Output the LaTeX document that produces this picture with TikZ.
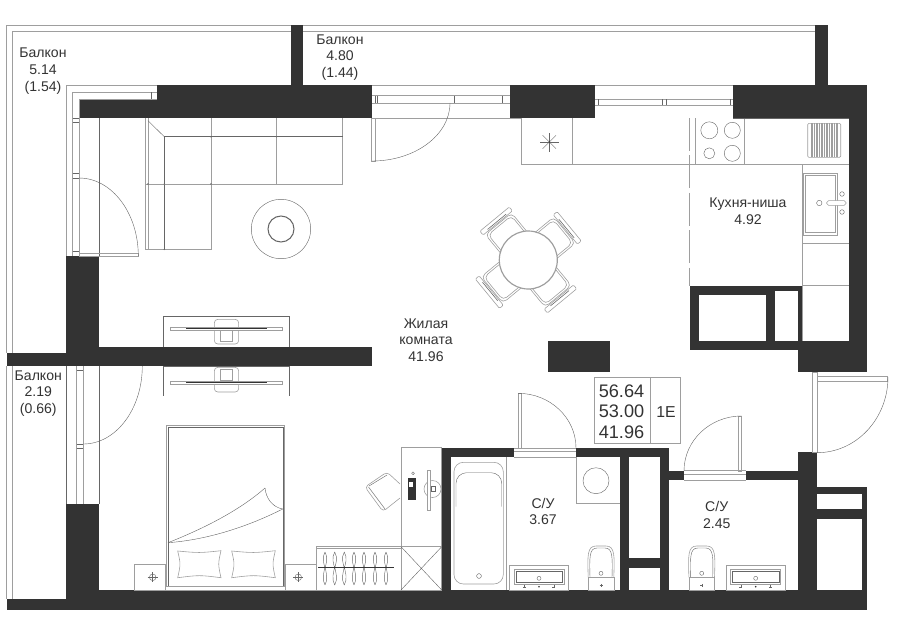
\documentclass[tikz,border=0pt]{standalone}
\usepackage{fontspec}
\setmainfont{Liberation Sans}
\usetikzlibrary{calc}

\definecolor{wallc}{HTML}{333333}
\definecolor{linec}{HTML}{666666}
\definecolor{softc}{HTML}{9E9E9E}

% quarter of an ellipse: door swing, centre then signed radii
\newcommand{\swing}[4]{\draw[plan] ({#1},{#2+#4}) .. controls ({#1+.5523*#3},{#2+#4}) and ({#1+#3},{#2+.5523*#4}) .. ({#1+#3},{#2});}
\newcommand{\tinyplus}[2]{\draw[plan] ({#1-1.5},{#2}) -- ({#1+1.5},{#2}) ({#1},{#2-1.5}) -- ({#1},{#2+1.5});}
% wash basin, left edge and right edge of the top
\newcommand{\basin}[2]{
  \draw[soft] (#1,565.3) rectangle (#2,590);
  \draw[soft] ({#1+4.7},569.3) rectangle ({#2-4.7},584);
  \draw[plan] ({#1+6.5},571) rectangle ({#2-6.5},582.3);
  \draw[plan] ({(#1+#2)/2},578.3) circle (2);
  \fill[wallc] ({(#1+#2)/2},586.7) circle (.9);
  \tinyplus{(#1+#2)/2-14.7}{586.7}
  \tinyplus{(#1+#2)/2+14.7}{586.7}
}
% toilet, centre x
\newcommand{\toilet}[1]{
  \draw[soft] ({#1-12.8},577.3) .. controls ({#1-13.5},556) and ({#1-14},546) .. ({#1-5},546) -- ({#1+5},546) .. controls ({#1+14},546) and ({#1+13.5},556) .. ({#1+12.8},577.3);
  \draw[plan] ({#1-11},577.3) .. controls ({#1-11.5},558) and ({#1-12},548) .. ({#1-4},548) -- ({#1+4},548) .. controls ({#1+12},548) and ({#1+11.5},558) .. ({#1+11},577.3);
  \draw[soft] ({#1-12.8},577.3) rectangle ({#1+12.8},590);
  \draw[plan] (#1,573.3) circle (2);
  \tinyplus{#1}{585.3}
}

\begin{document}
\begin{tikzpicture}[
    x=0.03cm, y=-0.03cm,
    wall/.style={fill=wallc, draw=none},
    plan/.style={draw=linec, line width=0.35pt},
    soft/.style={draw=softc, line width=0.5pt},
    roomlabel/.style={text=wallc, align=center, font=\fontsize{12}{14.2}\selectfont, inner sep=0pt}
  ]
  \useasboundingbox (0,0) rectangle (900,637);

  % balcony rails
  \draw[soft] (291,25.5) -- (6.5,25.5) -- (6.5,353);
  \draw[soft] (291,31) -- (12.7,31) -- (12.7,353);
  \draw[soft] (6.5,366) -- (6.5,599);
  \draw[soft] (12.7,366) -- (12.7,599);
  \draw[soft] (303,25.5) -- (815,25.5);
  \draw[soft] (303,31) -- (815,31);

  % walls
  \fill[wall] (291,25) rectangle (303,85);
  \fill[wall] (815,25) rectangle (828,85);
  \fill[wall] (157,85) rectangle (372,118);
  \fill[wall] (79,99) rectangle (157,118);
  \fill[wall] (510,85) rectangle (595,118);
  \fill[wall] (733,85) rectangle (867,118);
  \fill[wall] (849,118) rectangle (867,372);
  \fill[wall] (798,350) rectangle (867,372);
  \fill[wall] (548,341) rectangle (610,372);
  \fill[wall] (66,256) rectangle (99,366);
  \fill[wall] (99,346.7) rectangle (372,366);
  \fill[wall] (6.5,353) rectangle (66,366);
  \fill[wall] (66,504) rectangle (99,599);
  \fill[wall] (6.5,599) rectangle (99,610);
  \fill[wall] (99,590) rectangle (867,610);

  % niche behind the kitchen
  \fill[wall] (690,285.7) rectangle (803,350);
  \fill[wall] (798,340.7) rectangle (849,350);
  \fill[white] (699,295) rectangle (766,340.7);
  \fill[white] (775,291) rectangle (798,340.7);

  % bathrooms
  \fill[wall] (442,448) rectangle (514,457);
  \fill[wall] (576,448) rectangle (669,457);
  \fill[wall] (442,448) rectangle (451,590);
  \fill[wall] (620,457) rectangle (629,590);
  \fill[wall] (660,448) rectangle (669,590);
  \fill[wall] (629,558) rectangle (660,568);
  \fill[wall] (669,470.7) rectangle (684,480);
  \fill[wall] (746,470.7) rectangle (798,480);
  \fill[wall] (798,452) rectangle (817,590);
  \fill[wall] (817,487) rectangle (867,590);
  \fill[white] (817,494) rectangle (862,508.7);
  \fill[white] (817,518.7) rectangle (862,590);

  % windows and doors to the balconies
  \draw[soft] (157,85) -- (66,85) -- (66,256);
  \draw[soft] (157,92.3) -- (72.5,92.3) -- (72.5,256);
  \draw[soft] (157,99) -- (79,99) -- (79,256);
  \draw[plan] (151.7,92.3) -- (151.7,99);
  \draw[plan] (72.5,118) -- (79,118) (72.5,122) -- (79,122);
  \draw[plan] (72.5,173) -- (79,173) (72.5,178) -- (79,178);
  \draw[plan] (72.5,251) -- (79,251);
  \draw[plan] (99,118) -- (99,256);
  \draw[soft] (79,253) -- (138.3,253) -- (138.3,256) -- (79,256);
  \swing{79}{256}{59.3}{-78}

  \draw[plan] (66,366) -- (66,504);
  \draw[soft] (76.7,366) -- (76.7,504);
  \draw[soft] (83.3,366) -- (83.3,504);
  \draw[plan] (99,366) -- (99,504);
  \draw[plan] (76.7,444) -- (83.3,444) (76.7,448) -- (83.3,448) (76.7,370) -- (83.3,370);
  \swing{83.3}{366}{59}{78}

  \draw[soft] (372,85) -- (510,85);
  \draw[soft] (595,85) -- (733,85);
  \draw[soft] (372,118) -- (521.3,118);
  \draw[soft] (372,95.7) -- (510,95.7) (372,103.3) -- (510,103.3);
  \draw[soft] (595,99) -- (733,99) (595,105) -- (733,105);
  \foreach \tick in {375,377,454,501.7}{
    \draw[plan] (\tick,95.7) -- (\tick,103.3);
  }
  \foreach \tick in {598,661.7,666,730}{
    \draw[plan] (\tick,99) -- (\tick,105);
  }
  \draw[soft] (371.7,118) rectangle (375,161);
  \swing{372}{103}{78}{58}

  % door of the flat
  \draw[soft] (812.7,372) rectangle (817,452);
  \draw[soft] (817,376.7) rectangle (887,381.7);
  \swing{817}{377}{71}{75.7}

  % bathroom doors
  \draw[soft] (518,393.3) rectangle (521,448);
  \draw[soft] (514,448) -- (576,448) (514,451) -- (576,451) (514,457) -- (576,457);
  \swing{518}{448}{58}{-54.7}
  \draw[soft] (738.3,416) rectangle (741.7,471);
  \draw[soft] (684,470.7) -- (746,470.7) (684,474) -- (746,474) (684,480) -- (746,480);
  \swing{741.7}{471}{-57.7}{-55}

  % sofa
  \draw[soft] (145.7,118) -- (145.7,249.3) -- (211,249.3) -- (211,118);
  \draw[soft] (211,184) -- (342.7,184) -- (342.7,118);
  \draw[soft] (148,118) -- (148,249.3);
  \draw[plan] (164.3,136.7) -- (164.3,249.3);
  \draw[plan] (164.3,136.7) -- (342.7,136.7);
  \draw[plan] (148,120.7) -- (164.3,136.7);
  \draw[soft] (145.7,184) -- (211,184);
  \draw[soft] (276.7,118) -- (276.7,184);
  \foreach \xx/\yy in {211/136.7,276.7/136.7,164.3/184,148/184,211/184,164.3/249.3}{
    \fill[linec] (\xx,\yy) circle (.8);
  }

  % low table
  \draw[plan] (281,229) circle (29.7);
  \draw[linec, line width=0.9pt] (281,229) circle (13);

  % TV sets on both sides of the wall
  \foreach \ytop/\ybot/\yline/\ystand/\yinner in {316.3/346.7/328.7/319.3/330.7, 366/395.7/382.7/367.3/369.3}{
    \draw[plan] (163.3,\ybot) -- (163.3,\ytop) -- (289.7,\ytop) -- (289.7,\ybot);
    \draw[soft, fill=white, rounded corners=3] (214.3,\ystand) rectangle (238.7,\ystand+24.7);
    \draw[soft] (220.7,\yinner) rectangle (232.3,\yinner+11);
    \draw[soft, fill=white] (170,\yline-1.2) rectangle (282.7,\yline+1.2);
    \draw[wallc, line width=0.5pt] (186,\yline) -- (267,\yline);
  }

  % dining table
  \foreach \ang in {39.5,129.5,219.5,309.5}{
    \begin{scope}[shift={(528.3,260)}, rotate=\ang]
      \draw[soft, rounded corners=4] (20,-17) -- (47,-17) -- (47,17) -- (20,17);
      \draw[soft, rounded corners=4] (20,-15) -- (45,-15) -- (45,15) -- (20,15);
      \draw[soft, rounded corners=1] (48,-19) rectangle (53,19);
      \draw[linec, line width=0.5pt] (49.5,-12) -- (49.5,12);
    \end{scope}
  }
  \draw[softc, fill=white, line width=1pt] (528.3,260) circle (29);

  % kitchen
  \draw[soft] (521.3,118) -- (521.3,164.3) -- (802.7,164.3);
  \draw[soft] (572.3,118) -- (572.3,164.3);
  \draw[soft] (695.7,118) -- (695.7,164.3);
  \draw[soft] (744.7,118) -- (744.7,164.3);
  \draw[plan] (733,118) -- (849,118);
  \draw[plan] (709.3,130.3) circle (8.5);
  \draw[plan] (732.3,130.3) circle (8);
  \draw[plan] (709.3,153.3) circle (5.5);
  \draw[plan] (732.3,153.3) circle (8);
  \foreach \ang in {0,45,...,135}{
    \draw[plan] (549.3,142) ++(\ang:9.5) -- ++(\ang+180:19);
  }
  \fill[wallc] (549.3,142) circle (.8);
  \foreach \xx in {812,814.5,...,837}{
    \draw[softc, line width=0.9pt] (\xx,123.3) -- (\xx,157.3);
  }
  \draw[soft, rounded corners=1] (807.7,123.3) rectangle (840.7,157.3);
  \draw[softc, dash pattern=on 28pt off 4pt, line width=0.5pt] (689.7,118) -- (689.7,285.7);
  \draw[soft] (802.7,164.3) -- (849,164.3);
  \draw[soft] (802.7,164.3) -- (802.7,340.7);
  \draw[soft] (802.7,243.3) -- (849,243.3);
  \draw[soft] (802.7,285.3) -- (849,285.3);
  \draw[soft] (803.5,173.3) rectangle (837.3,235);
  \draw[soft] (805,175) rectangle (835,232.5);
  \draw[soft, fill=white, rounded corners=1.5] (826.7,200.7) rectangle (846,205.3);
  \draw[plan] (842,194) circle (2.3);
  \draw[plan] (842,212) circle (2.3);
  \draw[plan] (819.3,203) circle (2.7);

  % box with the areas
  \draw[soft] (594.7,377.3) rectangle (680.3,443.3);
  \draw[soft] (650.7,377.3) -- (650.7,443.3);

  % bed
  \draw[soft] (166.3,425.7) rectangle (284.7,586);
  \draw[plan] (168,427.5) rectangle (283,586);
  \draw[soft] (165,586) rectangle (285.7,590);
  \draw[plan] (168,542.7) .. controls (205,528) and (240,510) .. (265,488);
  \draw[plan] (168,542.7) .. controls (205,540) and (245,528) .. (282.7,509);
  \draw[plan] (265,488) .. controls (266,498) and (272,507) .. (282.7,509);
  \foreach \xl/\xr in {177.7/221,231.7/275.3}{
    \draw[soft] (\xl,551) .. controls ({(\xl+\xr)/2},553) .. (\xr,550.7)
      .. controls (\xr-3,564) .. (\xr,577.7) .. controls ({(\xl+\xr)/2},575) .. (\xl,577.7)
      .. controls (\xl+3,564) .. cycle;
  }
  \foreach \xl/\xr/\xs in {134.3/165/152.7,285.7/316/298.3}{
    \draw[soft] (\xl,564) rectangle (\xr,590);
    \draw[plan] (\xs,577.3) circle (3.3);
    \draw[plan] (\xs-5,577.3) -- (\xs+5,577.3) (\xs,572.3) -- (\xs,582.3);
  }

  % wardrobe
  \draw[soft] (316,546.7) rectangle (401,590);
  \draw[soft] (316,548.5) -- (401,548.5);
  \foreach \xx in {325,334.7,344.3,354,364,375,386}{
    \draw[plan] (\xx,552) .. controls (\xx-3.5,558) and (\xx-1,564) .. (\xx,568)
      .. controls (\xx+1,564) and (\xx+3.5,558) .. (\xx,552);
    \draw[plan] (\xx,585) .. controls (\xx-3.5,579) and (\xx-1,572) .. (\xx,567)
      .. controls (\xx+1,572) and (\xx+3.5,579) .. (\xx,585);
  }
  \draw[wallc, line width=0.4pt] (318,567) -- (394,567);

  % desk
  \draw[soft] (401,447.7) rectangle (441.7,590);
  \draw[soft] (401,546.7) rectangle (441.7,590);
  \draw[plan] (401,546.7) -- (441.7,590) (401,590) -- (441.7,546.7);
  \draw[soft, rounded corners=3] (400,484) -- (387,472) -- (365,487) -- (383,511.5) -- (400,498);
  \draw[plan] (368.5,487) -- (385,509);
  \draw[plan] (369,486) -- (387,475);
  \fill[wallc] (407.7,478) rectangle (415.7,500);
  \fill[white] (409,482) rectangle (412.5,487);
  \draw[plan] (413,473.3) circle (1.4);
  \draw[soft] (432.5,489) circle (8.5);
  \draw[soft, fill=white] (427.7,470) rectangle (430.3,510);
  \draw[plan] (431.5,486.5) rectangle (435,491.5);

  % bathroom fittings
  \draw[soft] (506.7,457) -- (506.7,590);
  \draw[soft, rounded corners=8] (454,462.3) rectangle (503.3,584);
  \draw[plan, rounded corners=9] (456,506.7) -- (456,472.7) -- (501.7,472.7) -- (501.7,506.7);
  \draw[plan] (479,576) circle (2.4);
  \draw[soft] (576,457) -- (576,503.3) -- (620,503.3);
  \draw[plan] (596,480.7) circle (13);
  \basin{509.3}{568.7}
  \toilet{601}
  \toilet{701.7}
  \basin{726}{785.3}

  % labels
  \node[roomlabel] (balconyw) at (43,71) {Балкон\\5.14\\(1.54)};
  \node[roomlabel] (balconyn) at (340,57.5) {Балкон\\4.80\\(1.44)};
  \node[roomlabel] (balconys) at (38.3,393.3) {Балкон\\2.19\\(0.66)};
  \node[roomlabel] (living) at (426,340) {Жилая\\комната\\41.96};
  \node[roomlabel] (kitchen) at (748,211.5) {Кухня-ниша\\4.92};
  \node[roomlabel] (bath) at (543,511.5) {С/У\\3.67};
  \node[roomlabel] (wc) at (716.7,515) {С/У\\2.45};
  \node[roomlabel, font=\fontsize{15.5}{17.6}\selectfont] (areas) at (621.5,411.7) {56.64\\53.00\\41.96};
  \node[roomlabel, font=\fontsize{13.5}{15}\selectfont] (flattype) at (666,411.7) {1E};
\end{tikzpicture}
\end{document}
